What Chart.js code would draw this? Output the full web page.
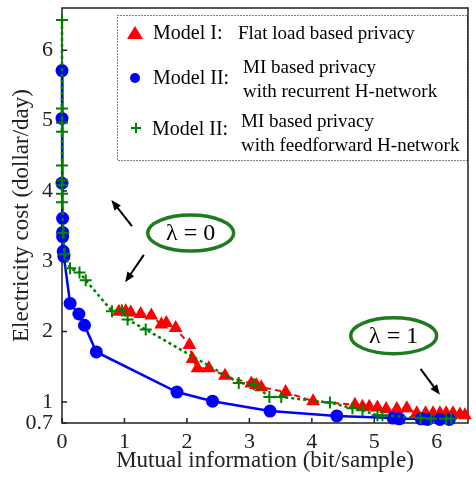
<!DOCTYPE html>
<html lang="en">
<head>
    <meta charset="UTF-8">
    <title>Electricity cost vs mutual information</title>
    <script src="https://cdn.jsdelivr.net/npm/chart.js"></script>
    <style>
        body {
            margin: 0;
            background: #fff;
        }
        #wrap {
            width: 476px;
            height: 477px;
        }
    </style>
</head>
<body>
    <div id="wrap">
        <canvas id="costChart"></canvas>
    </div>

    <script>
        // values
        const xTickVals = [0, 1, 2, 3, 4, 5, 6];
        const yTickVals = [0.7, 1, 2, 3, 4, 5, 6];

        const flatX = [0.91, 1.02, 1.10, 1.26, 1.43, 1.59, 1.67, 1.82, 2.04, 2.09, 2.17, 2.35, 2.61, 3.03, 3.11, 3.19, 3.58, 4.02, 4.69, 4.81, 4.92, 5.05, 5.19, 5.36, 5.52, 5.68, 5.82, 5.94, 6.05, 6.15, 6.26, 6.37, 6.45];
        const flatY = [2.28, 2.29, 2.27, 2.25, 2.23, 2.10, 2.12, 2.05, 1.81, 1.61, 1.48, 1.48, 1.37, 1.26, 1.24, 1.21, 1.14, 1.01, 0.96, 0.93, 0.93, 0.92, 0.90, 0.90, 0.91, 0.84, 0.84, 0.84, 0.84, 0.84, 0.84, 0.82, 0.81];

        const recurX = [0, 0, 0, 0.01, 0.01, 0.01, 0.02, 0.03, 0.13, 0.27, 0.36, 0.55, 1.84, 2.41, 3.33, 4.40, 5.30, 5.40, 5.75, 5.85, 6.05, 6.20];
        const recurY = [5.71, 5.03, 4.11, 3.61, 3.41, 3.35, 3.14, 3.07, 2.40, 2.25, 2.09, 1.71, 1.14, 1.01, 0.87, 0.80, 0.77, 0.76, 0.76, 0.75, 0.75, 0.75];

        const feedX = [0, 0, 0, 0, 0, 0, 0, 0, 0, 0.02, 0.04, 0.13, 0.28, 0.38, 0.80, 0.96, 1.05, 1.34, 2.83, 3.07, 3.32, 3.51, 4.29, 4.65, 4.81, 5.05, 5.13, 5.74, 5.91, 6.15, 6.23];
        const feedY = [6.43, 5.17, 4.97, 4.84, 4.36, 4.15, 4.08, 3.96, 3.84, 3.40, 3.10, 2.90, 2.84, 2.73, 2.29, 2.30, 2.17, 2.03, 1.27, 1.25, 1.07, 1.07, 0.99, 0.91, 0.88, 0.81, 0.81, 0.77, 0.76, 0.76, 0.76];

        const legendRows = [
            { name: "Model I:", lines: ["Flat load based privacy"] },
            { name: "Model II:", lines: ["MI based privacy", "with recurrent H-network"] },
            { name: "Model II:", lines: ["MI based privacy", "with feedforward H-network"] }
        ];

        const serif = "'Liberation Serif', 'DejaVu Serif', serif";

        function toPoints(xs, ys) {
            return xs.map((x, i) => ({ x: x, y: ys[i] }));
        }

        function drawArrow(ctx, x1, y1, x2, y2) {
            const ang = Math.atan2(y2 - y1, x2 - x1);
            const head = 11;
            ctx.strokeStyle = "#000";
            ctx.fillStyle = "#000";
            ctx.lineWidth = 2;
            ctx.beginPath();
            ctx.moveTo(x1, y1);
            ctx.lineTo(x2 - Math.cos(ang) * head * 0.8, y2 - Math.sin(ang) * head * 0.8);
            ctx.stroke();
            ctx.beginPath();
            ctx.moveTo(x2, y2);
            ctx.lineTo(x2 - head * Math.cos(ang - 0.38), y2 - head * Math.sin(ang - 0.38));
            ctx.lineTo(x2 - head * Math.cos(ang + 0.38), y2 - head * Math.sin(ang + 0.38));
            ctx.closePath();
            ctx.fill();
        }

        function drawLambda(ctx, cx, cy, label) {
            ctx.save();
            ctx.strokeStyle = "#1e7b1e";
            ctx.lineWidth = 3.5;
            ctx.beginPath();
            ctx.ellipse(cx, cy, 43, 18, 0, 0, Math.PI * 2);
            ctx.stroke();
            ctx.fillStyle = "#000";
            ctx.font = "24px " + serif;
            ctx.textAlign = "center";
            ctx.textBaseline = "middle";
            ctx.fillText(label, cx, cy + 1);
            ctx.restore();
        }

        // box, inward ticks
        const framePlugin = {
            id: "frame",
            beforeDatasetsDraw(chart) {
                const { ctx, chartArea: a, scales } = chart;
                ctx.save();
                ctx.strokeStyle = "#222";
                ctx.lineWidth = 1.5;
                ctx.strokeRect(a.left, a.top, a.right - a.left, a.bottom - a.top);
                ctx.beginPath();
                xTickVals.forEach(v => {
                    const px = scales.x.getPixelForValue(v);
                    ctx.moveTo(px, a.bottom);
                    ctx.lineTo(px, a.bottom - 5);
                });
                yTickVals.forEach(v => {
                    const py = scales.y.getPixelForValue(v);
                    ctx.moveTo(a.left, py);
                    ctx.lineTo(a.left + 5, py);
                });
                ctx.stroke();
                ctx.restore();
            },
            afterDatasetsDraw(chart) {
                const { ctx, scales } = chart;
                const X = v => scales.x.getPixelForValue(v);
                const Y = v => scales.y.getPixelForValue(v);

                // legend
                ctx.save();
                ctx.fillStyle = "#fff";
                ctx.fillRect(117, 15, 350, 145);
                ctx.strokeStyle = "#000";
                ctx.lineWidth = 1;
                ctx.setLineDash([1, 2]);
                ctx.strokeRect(117.5, 15.5, 350, 145);
                ctx.setLineDash([]);

                // markers
                ctx.fillStyle = "#ff0000";
                ctx.beginPath();
                ctx.moveTo(135, 26);
                ctx.lineTo(143, 39);
                ctx.lineTo(127, 39);
                ctx.closePath();
                ctx.fill();

                ctx.fillStyle = "#0000ff";
                ctx.beginPath();
                ctx.arc(135, 78, 5, 0, Math.PI * 2);
                ctx.fill();

                ctx.strokeStyle = "#008000";
                ctx.lineWidth = 2;
                ctx.beginPath();
                ctx.moveTo(131, 128);
                ctx.lineTo(141, 128);
                ctx.moveTo(136, 123);
                ctx.lineTo(136, 133);
                ctx.stroke();

                ctx.fillStyle = "#000";
                ctx.textAlign = "left";
                ctx.textBaseline = "alphabetic";
                ctx.font = "20px " + serif;
                ctx.fillText(legendRows[0].name, 153, 39);
                ctx.fillText(legendRows[1].name, 153, 84);
                ctx.fillText(legendRows[2].name, 152, 135);
                ctx.font = "19px " + serif;
                ctx.fillText(legendRows[0].lines[0], 238, 39);
                ctx.fillText(legendRows[1].lines[0], 243, 73);
                ctx.fillText(legendRows[1].lines[1], 243, 97);
                ctx.fillText(legendRows[2].lines[0], 241, 127);
                ctx.fillText(legendRows[2].lines[1], 241, 151);
                ctx.restore();

                // lambda notes
                drawLambda(ctx, X(2.06), Y(3.40), "\u03bb = 0");
                drawLambda(ctx, X(5.31), Y(1.94), "\u03bb = 1");
                ctx.save();
                drawArrow(ctx, X(1.12), Y(3.50), X(0.79), Y(3.87));
                drawArrow(ctx, X(1.31), Y(3.09), X(1.01), Y(2.70));
                drawArrow(ctx, X(5.74), Y(1.47), X(6.05), Y(1.10));
                ctx.restore();
            }
        };

        function createChart() {
            const ctx = document.getElementById("costChart").getContext("2d");

            new Chart(ctx, {
                type: "scatter",
                data: {
                    datasets: [
                        {
                            label: "Model II: MI based privacy with feedforward H-network",
                            data: toPoints(feedX, feedY),
                            showLine: true,
                            borderColor: "#008000",
                            borderWidth: 2.5,
                            borderDash: [3, 3],
                            pointStyle: "cross",
                            pointRadius: 6,
                            pointBorderWidth: 2,
                            pointBorderColor: "#008000",
                            clip: false,
                            order: 1
                        },
                        {
                            label: "Model II: MI based privacy with recurrent H-network",
                            data: toPoints(recurX, recurY),
                            showLine: true,
                            borderColor: "#0000ff",
                            borderWidth: 2.5,
                            pointStyle: "circle",
                            pointRadius: 6.5,
                            pointBackgroundColor: "#0000ff",
                            pointBorderWidth: 0,
                            clip: false,
                            order: 2
                        },
                        {
                            label: "Model I: Flat load based privacy",
                            data: toPoints(flatX, flatY),
                            showLine: true,
                            borderColor: "#ff0000",
                            borderWidth: 2,
                            borderDash: [6, 4],
                            pointStyle: "triangle",
                            pointRadius: 8,
                            pointBackgroundColor: "#ff0000",
                            pointBorderWidth: 0,
                            clip: false,
                            order: 3
                        }
                    ]
                },
                options: {
                    responsive: true,
                    maintainAspectRatio: false,
                    animation: false,
                    layout: {
                        padding: { left: 8, top: 8, right: 2, bottom: 2 }
                    },
                    plugins: {
                        legend: { display: false },
                        tooltip: { enabled: false }
                    },
                    scales: {
                        x: {
                            type: "linear",
                            min: 0,
                            max: 6.5,
                            afterBuildTicks: scale => {
                                scale.ticks = xTickVals.map(v => ({ value: v }));
                            },
                            afterFit: scale => {
                                scale.height = 52;
                                scale.paddingLeft = 0;
                                scale.paddingRight = 0;
                            },
                            grid: { display: false, drawTicks: false },
                            border: { display: false },
                            ticks: {
                                padding: 6,
                                color: "#222",
                                font: { family: serif, size: 22 },
                                maxRotation: 0
                            },
                            title: {
                                display: true,
                                text: "Mutual information (bit/sample)",
                                color: "#222",
                                font: { family: serif, size: 23 },
                                padding: 0
                            }
                        },
                        y: {
                            type: "linear",
                            min: 0.7,
                            max: 6.6,
                            afterBuildTicks: scale => {
                                scale.ticks = yTickVals.map(v => ({ value: v }));
                            },
                            afterFit: scale => {
                                scale.width = 54;
                                scale.paddingTop = 0;
                                scale.paddingBottom = 0;
                            },
                            grid: { display: false, drawTicks: false },
                            border: { display: false },
                            ticks: {
                                padding: 9,
                                color: "#222",
                                font: { family: serif, size: 22 },
                                callback: v => String(v)
                            },
                            title: {
                                display: true,
                                text: "Electricity cost (dollar/day)",
                                color: "#222",
                                font: { family: serif, size: 23 },
                                padding: 0
                            }
                        }
                    }
                },
                plugins: [framePlugin]
            });
        }

        createChart();
    </script>
</body>
</html>
